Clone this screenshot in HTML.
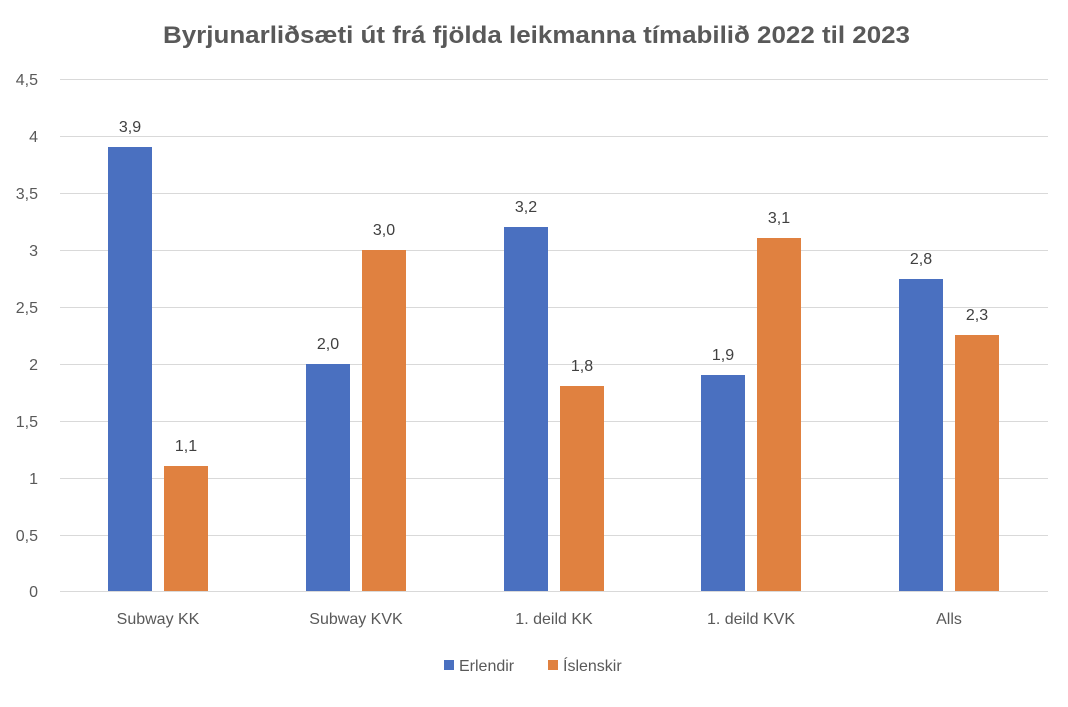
<!DOCTYPE html>
<html><head><meta charset="utf-8"><style>body{margin:0;background:#fff}</style></head><body>
<svg width="1068" height="702" xmlns="http://www.w3.org/2000/svg" font-family="Liberation Sans, sans-serif">
<rect width="1068" height="702" fill="#fff"/>
<text x="163" y="43" textLength="747" lengthAdjust="spacingAndGlyphs" font-size="24" font-weight="bold" fill="#595959">Byrjunarliðsæti út frá fjölda leikmanna tímabilið 2022 til 2023</text>
<g stroke="#d9d9d9" stroke-width="1">
<line x1="60" x2="1048" y1="79.5" y2="79.5"/><line x1="60" x2="1048" y1="136.5" y2="136.5"/><line x1="60" x2="1048" y1="193.5" y2="193.5"/><line x1="60" x2="1048" y1="250.5" y2="250.5"/><line x1="60" x2="1048" y1="307.5" y2="307.5"/><line x1="60" x2="1048" y1="364.5" y2="364.5"/><line x1="60" x2="1048" y1="421.5" y2="421.5"/><line x1="60" x2="1048" y1="478.5" y2="478.5"/><line x1="60" x2="1048" y1="535.5" y2="535.5"/><line x1="60" x2="1048" y1="591.5" y2="591.5"/>
</g>
<g font-size="16" fill="#595959" text-anchor="end">
<text x="38" y="85">4,5</text><text x="38" y="142">4</text><text x="38" y="199">3,5</text><text x="38" y="256">3</text><text x="38" y="313">2,5</text><text x="38" y="370">2</text><text x="38" y="427">1,5</text><text x="38" y="484">1</text><text x="38" y="541">0,5</text><text x="38" y="597">0</text>
</g>
<g fill="#4a70c0">
<rect x="108" y="147" width="44" height="444"/><rect x="306" y="364" width="44" height="227"/><rect x="504" y="227" width="44" height="364"/><rect x="701" y="375" width="44" height="216"/><rect x="899" y="279" width="44" height="312"/>
</g>
<g fill="#e08140">
<rect x="164" y="466" width="44" height="125"/><rect x="362" y="250" width="44" height="341"/><rect x="560" y="386" width="44" height="205"/><rect x="757" y="238" width="44" height="353"/><rect x="955" y="335" width="44" height="256"/>
</g>
<g font-size="16" fill="#404040" text-anchor="middle">
<text x="130" y="132">3,9</text><text x="186" y="451">1,1</text>
<text x="328" y="349">2,0</text><text x="384" y="235">3,0</text>
<text x="526" y="212">3,2</text><text x="582" y="371">1,8</text>
<text x="723" y="360">1,9</text><text x="779" y="223">3,1</text>
<text x="921" y="264">2,8</text><text x="977" y="320">2,3</text>
</g>
<g font-size="16" fill="#595959" text-anchor="middle">
<text x="158" y="624">Subway KK</text><text x="356" y="624">Subway KVK</text><text x="554" y="624">1. deild KK</text><text x="751" y="624">1. deild KVK</text><text x="949" y="624">Alls</text>
</g>
<rect x="444" y="660" width="10" height="10" fill="#4a70c0"/>
<text x="459" y="671" font-size="16" fill="#595959">Erlendir</text>
<rect x="548" y="660" width="10" height="10" fill="#e08140"/>
<text x="563" y="671" font-size="16" fill="#595959">Íslenskir</text>
</svg>
</body></html>
